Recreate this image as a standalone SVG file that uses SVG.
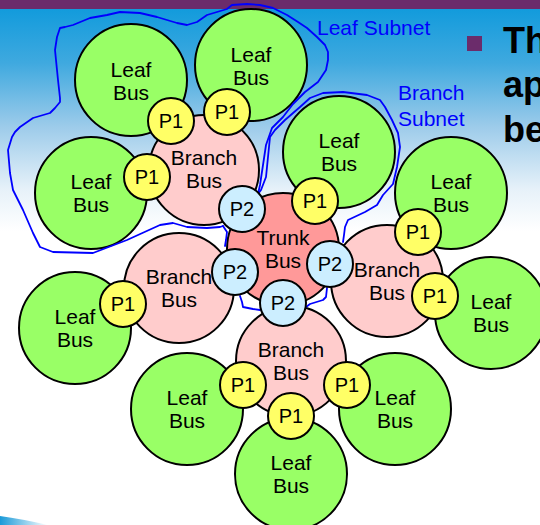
<svg xmlns="http://www.w3.org/2000/svg" width="540" height="525" viewBox="0 0 540 525">
  <defs>
    <linearGradient id="sky" x1="0" y1="0" x2="0" y2="525" gradientUnits="userSpaceOnUse">
      <stop offset="0.017" stop-color="#129bdc"/>
      <stop offset="0.12" stop-color="#3fa9df"/>
      <stop offset="0.24" stop-color="#9ccbea"/>
      <stop offset="0.36" stop-color="#e6f1f9"/>
      <stop offset="0.44" stop-color="#ffffff"/>
      <stop offset="1" stop-color="#ffffff"/>
    </linearGradient>
    <linearGradient id="swoosh" x1="0" y1="0" x2="48" y2="0" gradientUnits="userSpaceOnUse">
      <stop offset="0" stop-color="#1a9ad8"/>
      <stop offset="1" stop-color="#1a9ad8" stop-opacity="0"/>
    </linearGradient>
    <style>
      circle { stroke: #000; stroke-width: 2; }
      .leaf { fill: #99ff66; }
      .branch { fill: #ffcccc; }
      .trunk { fill: #ff9999; }
      .p1 { fill: #ffff66; }
      .p2 { fill: #cceeff; }
      text { font-family: "Liberation Sans", Arial, sans-serif; fill: #000; }
      .lbl { font-size: 21px; text-anchor: middle; }
      .port { font-size: 20px; text-anchor: middle; }
      .note { font-size: 21px; fill: #0000ff; }
      .head { font-size: 36px; font-weight: bold; }
      .subnet { fill: none; stroke: #0000ff; stroke-width: 1.8; stroke-linejoin: round; stroke-linecap: round; }
    </style>
  </defs>

  <!-- slide background -->
  <rect x="0" y="0" width="540" height="525" fill="url(#sky)"/>
  <rect x="0" y="0" width="540" height="9" fill="#6b2c6b"/>
  <path d="M0,516 Q22,519 48,525 L0,525 Z" fill="url(#swoosh)"/>

  <!-- bullet text at the right edge -->
  <rect x="467" y="36" width="15" height="15" fill="#6b2c6b"/>
  <text class="head" x="503" y="53">Th</text>
  <text class="head" x="503" y="97">ap</text>
  <text class="head" x="503" y="142">be</text>

  <!-- leaf buses -->
  <g id="leaf-1"><circle class="leaf" cx="131" cy="80" r="56"/><text class="lbl" x="131" y="77">Leaf</text><text class="lbl" x="131" y="100">Bus</text></g>
  <g id="leaf-2"><circle class="leaf" cx="251" cy="65" r="56"/><text class="lbl" x="251" y="62">Leaf</text><text class="lbl" x="251" y="85">Bus</text></g>
  <g id="leaf-3"><circle class="leaf" cx="91" cy="193" r="56"/><text class="lbl" x="91" y="189">Leaf</text><text class="lbl" x="91" y="212">Bus</text></g>
  <g id="leaf-4"><circle class="leaf" cx="339" cy="152" r="56"/><text class="lbl" x="339" y="148">Leaf</text><text class="lbl" x="339" y="171">Bus</text></g>
  <g id="leaf-5"><circle class="leaf" cx="451" cy="193" r="56"/><text class="lbl" x="451" y="189">Leaf</text><text class="lbl" x="451" y="212">Bus</text></g>
  <g id="leaf-6"><circle class="leaf" cx="491" cy="313" r="56"/><text class="lbl" x="491" y="309">Leaf</text><text class="lbl" x="491" y="332">Bus</text></g>
  <g id="leaf-7"><circle class="leaf" cx="75" cy="328" r="56"/><text class="lbl" x="75" y="324">Leaf</text><text class="lbl" x="75" y="347">Bus</text></g>
  <g id="leaf-8"><circle class="leaf" cx="187" cy="409" r="56"/><text class="lbl" x="187" y="405">Leaf</text><text class="lbl" x="187" y="428">Bus</text></g>
  <g id="leaf-9"><circle class="leaf" cx="395" cy="409" r="56"/><text class="lbl" x="395" y="405">Leaf</text><text class="lbl" x="395" y="428">Bus</text></g>
  <g id="leaf-10"><circle class="leaf" cx="291" cy="474" r="56"/><text class="lbl" x="291" y="470">Leaf</text><text class="lbl" x="291" y="493">Bus</text></g>

  <!-- branch buses -->
  <g id="branch-1"><circle class="branch" cx="204" cy="170" r="55"/><text class="lbl" x="204" y="165">Branch</text><text class="lbl" x="204" y="188">Bus</text></g>
  <g id="branch-2"><circle class="branch" cx="179" cy="288" r="55"/><text class="lbl" x="179" y="284">Branch</text><text class="lbl" x="179" y="307">Bus</text></g>
  <g id="branch-3"><circle class="branch" cx="387" cy="281" r="56"/><text class="lbl" x="387" y="277">Branch</text><text class="lbl" x="387" y="300">Bus</text></g>
  <g id="branch-4"><circle class="branch" cx="291" cy="361" r="55"/><text class="lbl" x="291" y="357">Branch</text><text class="lbl" x="291" y="380">Bus</text></g>

  <!-- trunk bus -->
  <g id="trunk"><circle class="trunk" cx="283" cy="249" r="56"/><text class="lbl" x="283" y="245">Trunk</text><text class="lbl" x="283" y="268">Bus</text></g>

  <!-- subnet outlines -->
  <g id="subnets">
    <path id="leaf-subnet" class="subnet" d="M258,194 L260,185 L263,165 L266,145 L272,128 L283,117 L293,104 L305,92 L318,82 L326,70 L328,60 L328,52 L325,45 L317,37 L307,28 L298,22 L287,15 L273,8 L260,5 L247,4 L232,5 L227,9 L217,12 L207,15 L197,22 L187,25 L177,23 L157,17 L140,13 L120,12 L107,15 L90,18 L73,25 L65,27 L60,28 L57,37 L55,50 L58,80 L60,98 L60,102 L55,108 L50,113 L33,118 L20,127 L15,132 L12,137 L8,150 L10,173 L13,190 L23,210 L33,233 L40,247 L53,252 L93,253 L127,240 L160,225 L173,223 L187,227 L207,228 L220,227 L223,226"/>
    <path id="branch-subnet" class="subnet" d="M258,194 L261,190 L266,177 L268,157 L270,137 L275,130 L285,120 L300,107 L310,98 L323,93 L343,92 L367,95 L380,100 L385,107 L392,120 L398,133 L400,147 L397,167 L393,184 L383,195 L377,205 L365,212 L348,220 L345,227 L344,235 L343,242 M327,288 L326,297 L323,300 L310,304 L306,307 M260,310 L253,309 L243,307 L242,302 L240,296 M223,226 L227,232 L226,240 L225,246"/>
    <text class="note" x="317" y="35">Leaf Subnet</text>
    <text class="note" x="398" y="100">Branch</text>
    <text class="note" x="398" y="126">Subnet</text>
  </g>

  <!-- P1 ports -->
  <g id="p1-1"><circle class="p1" cx="171" cy="121" r="23"/><text class="port" x="171" y="128">P1</text></g>
  <g id="p1-2"><circle class="p1" cx="227" cy="112" r="23"/><text class="port" x="227" y="119">P1</text></g>
  <g id="p1-3"><circle class="p1" cx="147" cy="177" r="23"/><text class="port" x="147" y="184">P1</text></g>
  <g id="p1-4"><circle class="p1" cx="315" cy="201" r="23"/><text class="port" x="315" y="208">P1</text></g>
  <g id="p1-5"><circle class="p1" cx="418" cy="232" r="23"/><text class="port" x="418" y="239">P1</text></g>
  <g id="p1-6"><circle class="p1" cx="435" cy="296" r="23"/><text class="port" x="435" y="303">P1</text></g>
  <g id="p1-7"><circle class="p1" cx="123" cy="304" r="23"/><text class="port" x="123" y="311">P1</text></g>
  <g id="p1-8"><circle class="p1" cx="243" cy="385" r="23"/><text class="port" x="243" y="392">P1</text></g>
  <g id="p1-9"><circle class="p1" cx="347" cy="385" r="23"/><text class="port" x="347" y="392">P1</text></g>
  <g id="p1-10"><circle class="p1" cx="291" cy="416" r="23"/><text class="port" x="291" y="423">P1</text></g>

  <!-- P2 ports -->
  <g id="p2-1"><circle class="p2" cx="242" cy="209" r="23"/><text class="port" x="242" y="216">P2</text></g>
  <g id="p2-2"><circle class="p2" cx="235" cy="272" r="23"/><text class="port" x="235" y="279">P2</text></g>
  <g id="p2-3"><circle class="p2" cx="330" cy="264" r="23"/><text class="port" x="330" y="271">P2</text></g>
  <g id="p2-4"><circle class="p2" cx="283" cy="303" r="23"/><text class="port" x="283" y="310">P2</text></g>
</svg>
